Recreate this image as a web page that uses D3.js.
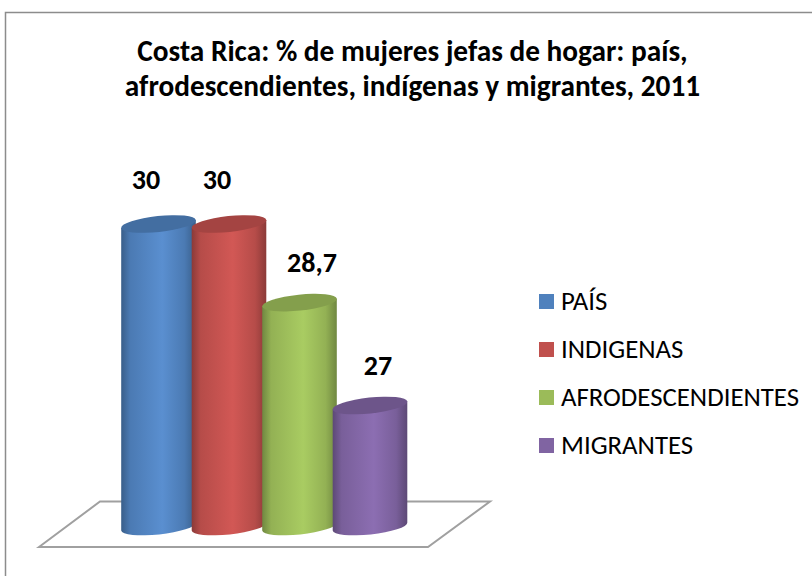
<!DOCTYPE html>
<html><head><meta charset="utf-8">
<script src="https://cdn.jsdelivr.net/npm/d3@7/dist/d3.min.js"></script>
<style>html,body{margin:0;padding:0;background:#fff}svg{display:block}text{font-family:Carlito,Lato,"Open Sans",sans-serif;fill:#000}</style>
</head><body><svg id="c" width="812" height="576"></svg>
<script>
const categories=["PAÍS","INDIGENAS","AFRODESCENDIENTES","MIGRANTES"];
const values=[30,30,28.7,27];
const valueLabels=["30","30","28,7","27"];
const colors=["#4f81bd","#c0504d","#9bbb59","#8064a2"];
const bright=["#5a8fd0","#d25855","#a9cc62","#8c6eb2"];
const titleLines=["Costa Rica: % de mujeres jefas de hogar: país,","afrodescendientes, indígenas y migrantes, 2011"];

const svg=d3.select("#c");
const defs=svg.append("defs");
svg.append("path").attr("d","M5.5,576V12.5H812").attr("fill","none").attr("stroke","#8c8c8c").attr("stroke-width",1.5);

const x=d3.scaleBand().domain(categories).range([123.25,405.25]);
const y=d3.scaleLinear().domain([25,30]).range([526.5,224]);

svg.append("path").attr("d","M39,547L100,501.5L490,501.5L428,547Z").attr("fill","#fff").attr("stroke","#a0a0a0").attr("stroke-width",2);

const rx=37.5,ry=8,rot=-6;
categories.forEach((c,i)=>{
  const g=defs.append("linearGradient").attr("id","g"+i);
  const d=d3.color(colors[i]).darker(.9),m=d3.color(colors[i]).darker(.15);
  [[0,d],[.12,m],[.55,bright[i]],[.85,m],[1,d]].forEach(s=>g.append("stop").attr("offset",s[0]).attr("stop-color",s[1]));
});
const labelDx=[-12.5,-12,12.5,8], labelDy=[35,35,30.5,31];
categories.forEach((c,i)=>{
  const cx=x(c)+x.bandwidth()/2, top=y(values[i]), bot=y(25);
  const dy=rx*Math.sin(rot*Math.PI/180), dx=rx*Math.cos(rot*Math.PI/180);
  const L=cx-dx,R=cx+dx;
  const d=`M${L},${top-dy}L${L},${bot-dy}A${rx},${ry} ${rot} 0 0 ${R},${bot+dy}L${R},${top+dy}Z`;
  svg.append("path").attr("d",d).attr("fill",`url(#g${i})`);
  svg.append("ellipse").attr("rx",rx).attr("ry",ry)
    .attr("transform",`translate(${cx},${top}) rotate(${rot})`).attr("fill",d3.color(colors[i]).darker(.45));
  svg.append("text").attr("x",cx+labelDx[i]).attr("y",top-labelDy[i]).attr("text-anchor","middle")
    .attr("font-size",28).attr("font-weight",700).text(valueLabels[i]);
});
titleLines.forEach((t,i)=>svg.append("text").attr("x",412.5).attr("y",[61,96][i]).attr("text-anchor","middle").attr("font-size",29.3).attr("font-weight",700).text(t));

const ly=d3.scalePoint().domain(categories).range([301.5,445.5]);
categories.forEach((c,i)=>{
  svg.append("rect").attr("x",539).attr("y",ly(c)-7.5).attr("width",15).attr("height",15).attr("fill",colors[i]);
  svg.append("text").attr("x",561).attr("y",ly(c)+8.5).attr("font-size",26.8).text(c);
});
</script></body></html>
